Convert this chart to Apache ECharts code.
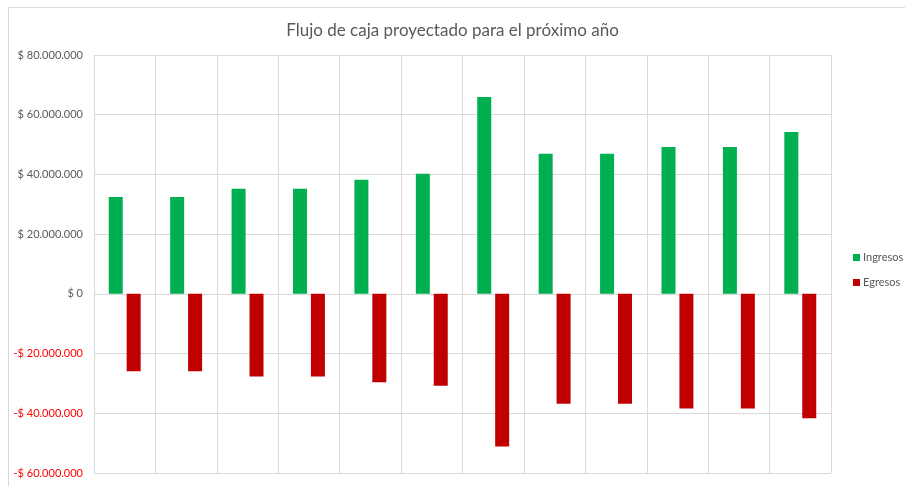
<!DOCTYPE html>
<html>
<head>
<meta charset="utf-8">
<script src="https://cdn.jsdelivr.net/npm/echarts@6/dist/echarts.min.js"></script>
<style>
html,body{margin:0;padding:0;background:#fff;}
#c{width:905px;height:486px;}
</style>
</head>
<body>
<div id="c"></div>
<script>
const categories = ['Mes 1','Mes 2','Mes 3','Mes 4','Mes 5','Mes 6','Mes 7','Mes 8','Mes 9','Mes 10','Mes 11','Mes 12'];
const ingresos = [32400000, 32400000, 35200000, 35200000, 38200000, 40200000, 65900000, 46900000, 46900000, 49200000, 49200000, 54200000];
const egresos = [-25900000, -25900000, -27700000, -27700000, -29600000, -30800000, -51100000, -36800000, -36800000, -38400000, -38400000, -41700000];
const yTicks = { min: -60000000, max: 80000000, interval: 20000000 };

const FONT = 'Lato, "Open Sans", sans-serif';
function fmt(v) {
  const s = Math.abs(v).toString().replace(/\B(?=(\d{3})+(?!\d))/g, '.');
  return (v < 0 ? '-$ ' : '$ ') + s;
}
const chart = echarts.init(document.getElementById('c'));
chart.setOption({
  animation: false,
  backgroundColor: '#fff',
  textStyle: { fontFamily: FONT },
  graphic: [{
    type: 'rect', left: 6, top: 5, z: -1,
    shape: { width: 905, height: 490 },
    style: { fill: 'none', stroke: '#d9d9d9', lineWidth: 1 }
  }],
  title: {
    text: 'Flujo de caja proyectado para el próximo año',
    left: 'center', top: 17,
    textStyle: { fontFamily: FONT, fontSize: 17, fontWeight: 400, color: '#595959' }
  },
  legend: {
    orient: 'vertical', left: 848, top: 247,
    itemWidth: 7, itemHeight: 7, itemGap: 14,
    icon: 'rect',
    textStyle: { fontFamily: FONT, fontSize: 11, color: '#595959', padding: [0, 0, 0, -2] },
    data: ['Ingresos', 'Egresos']
  },
  grid: { left: 94, right: 74, top: 55, bottom: 13, containLabel: false },
  xAxis: {
    type: 'category', data: categories,
    axisLine: { show: true, onZero: true, lineStyle: { color: '#d9d9d9' } },
    axisTick: { show: false },
    axisLabel: { show: false },
    splitLine: { show: true, lineStyle: { color: '#d9d9d9' } }
  },
  yAxis: {
    type: 'value', min: yTicks.min, max: yTicks.max, interval: yTicks.interval,
    axisLine: { show: false }, axisTick: { show: false },
    splitLine: { show: true, lineStyle: { color: '#d9d9d9' } },
    axisLabel: {
      margin: 11, fontFamily: FONT, fontSize: 11,
      formatter: function (v) { return v < 0 ? '{n|' + fmt(v) + '}' : '{p|' + fmt(v) + '}'; },
      rich: {
        p: { color: '#595959', fontFamily: FONT, fontSize: 11 },
        n: { color: '#ff0000', fontFamily: FONT, fontSize: 11 }
      }
    }
  },
  series: [
    { name: 'Ingresos', type: 'bar', data: ingresos, barWidth: 14, barGap: '28%',
      itemStyle: { color: '#00b050' } },
    { name: 'Egresos', type: 'bar', data: egresos, barWidth: 14,
      itemStyle: { color: '#c00000' } }
  ]
});
</script>
</body>
</html>
